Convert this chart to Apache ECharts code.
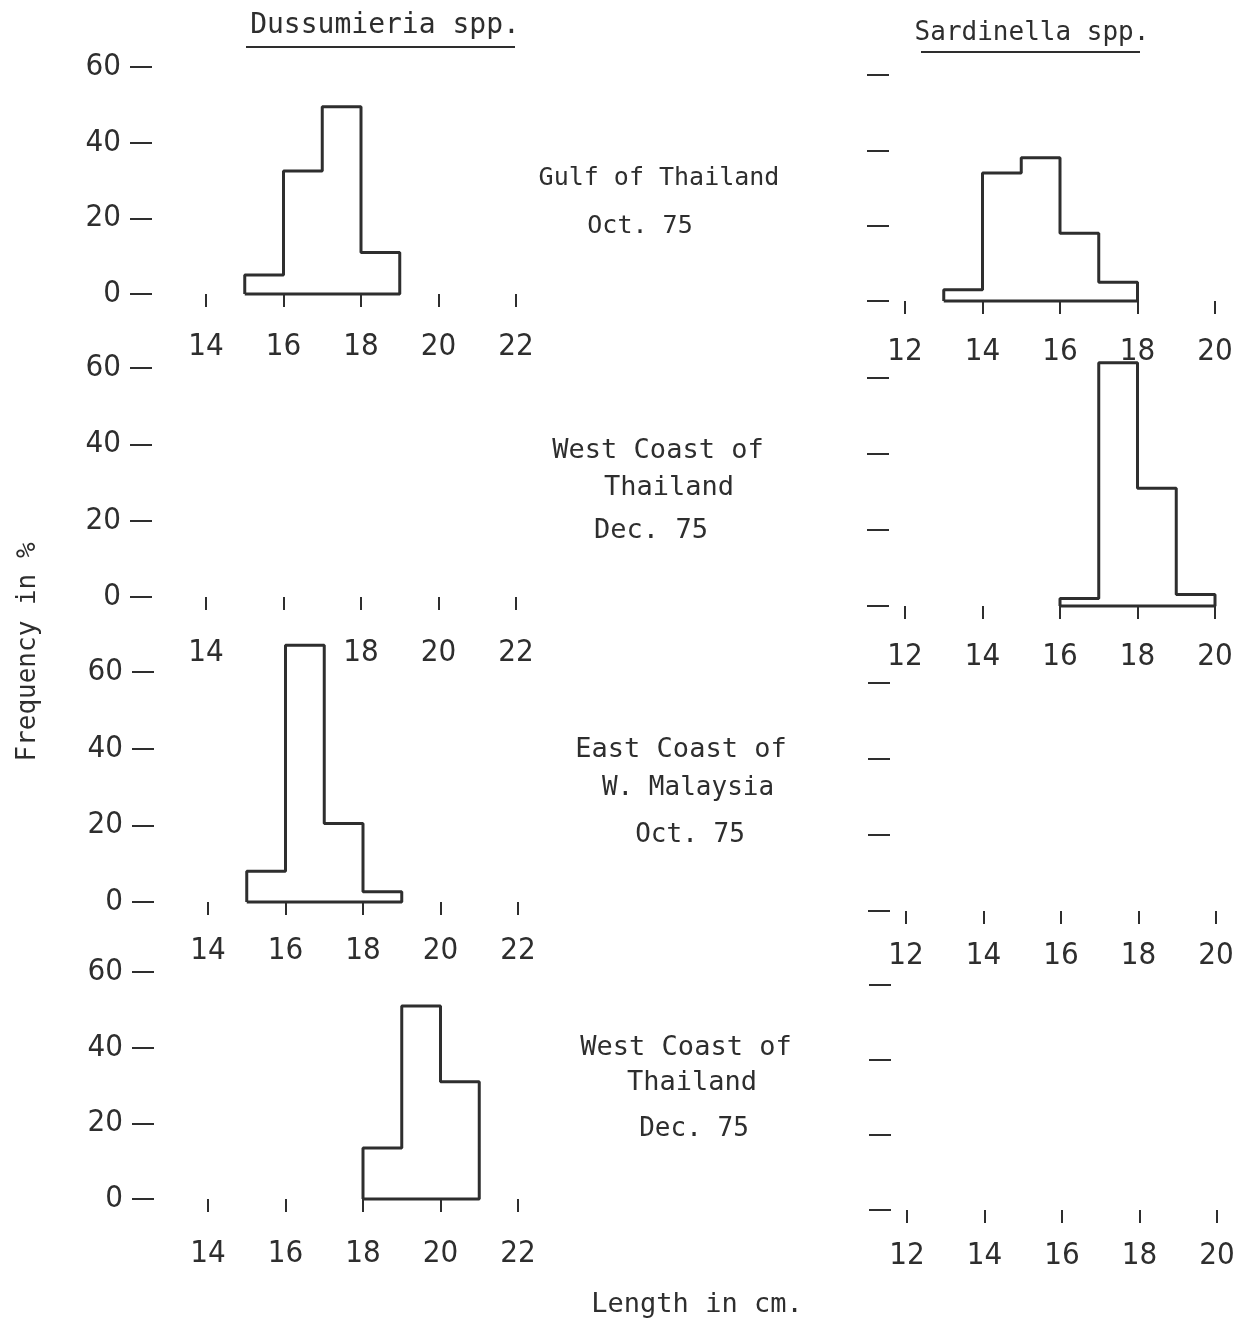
<!DOCTYPE html>
<html>
<head>
<meta charset="utf-8">
<script src="https://cdn.jsdelivr.net/npm/echarts@6/dist/echarts.min.js"></script>
<style>
  body { margin: 0; background: #fff; }
  #myChart { width: 1247px; height: 1325px; }
</style>
</head>
<body>
<div id="myChart"></div>
<script>
// tick labels
var freqTicks = [0, 20, 40, 60];
var dussLengthTicks = [14, 16, 18, 20, 22];
var sardLengthTicks = [12, 14, 16, 18, 20];

// histograms: class start (cm, 1 cm classes) and frequency in %
var dussGulfStart = [15, 16, 17, 18];
var dussGulfFreq = [5, 32.5, 49.5, 11];
var sardGulfStart = [13, 14, 15, 16, 17];
var sardGulfFreq = [3, 34, 38, 18, 5];

var dussWestStart = [];
var dussWestFreq = [];
var sardWestStart = [16, 17, 18, 19];
var sardWestFreq = [2, 64, 31, 3];

var dussEastStart = [15, 16, 17, 18];
var dussEastFreq = [8, 67, 20.5, 2.7];
var sardEastStart = [];
var sardEastFreq = [];

var dussWest2Start = [18, 19, 20];
var dussWest2Freq = [13.5, 51, 31];
var sardWest2Start = [];
var sardWest2Freq = [];

var ink = '#2e2e2e';
var narrow = '"Liberation Sans Narrow", "DejaVu Sans Condensed", sans-serif';
var mono = '"DejaVu Sans Mono", monospace';

// outline of a histogram (outer silhouette + base line)
function outline(start, freq) {
  if (!start.length) return [];
  var pts = [[start[0], 0]];
  for (var i = 0; i < start.length; i++) {
    pts.push([start[i], freq[i]]);
    pts.push([start[i] + 1, freq[i]]);
  }
  pts.push([start[start.length - 1] + 1, 0]);
  pts.push([start[0], 0]);
  return pts;
}

var panels = [
  { left: 206, top: 67, height: 227, ticks: dussLengthTicks, start: dussGulfStart, freq: dussGulfFreq, labelGap: 30, hide: [] },
  { left: 905, top: 75, height: 226, ticks: sardLengthTicks, start: sardGulfStart, freq: sardGulfFreq, labelGap: 28 },
  { left: 206, top: 368, height: 229, ticks: dussLengthTicks, start: dussWestStart, freq: dussWestFreq, labelGap: 33, hide: [16] },
  { left: 905, top: 378, height: 228, ticks: sardLengthTicks, start: sardWestStart, freq: sardWestFreq, labelGap: 28 },
  { left: 208, top: 672, height: 230, ticks: dussLengthTicks, start: dussEastStart, freq: dussEastFreq, labelGap: 26, hide: [] },
  { left: 906, top: 683, height: 228, ticks: sardLengthTicks, start: sardEastStart, freq: sardEastFreq, labelGap: 22 },
  { left: 208, top: 972, height: 227, ticks: dussLengthTicks, start: dussWest2Start, freq: dussWest2Freq, labelGap: 32, hide: [] },
  { left: 907, top: 985, height: 225, ticks: sardLengthTicks, start: sardWest2Start, freq: sardWest2Freq, labelGap: 23 }
];

var grids = [], xAxes = [], yAxes = [], series = [];
panels.forEach(function (p, i) {
  var isLeft = i % 2 === 0;
  var t = p.ticks;
  grids.push({ left: p.left, top: p.top, width: 310, height: p.height, outerBoundsMode: 'none' });
  xAxes.push({
    type: 'value', gridIndex: i,
    min: t[0], max: t[t.length - 1], interval: t[1] - t[0],
    offset: 7,
    axisLine: { show: false },
    splitLine: { show: false },
    axisTick: { length: 13, lineStyle: { color: ink, width: 2 } },
    axisLabel: {
      margin: p.labelGap, color: ink, fontSize: 31, fontFamily: narrow,
      formatter: function (v) { return (p.hide || []).indexOf(v) >= 0 ? '' : String(v); }
    }
  });
  yAxes.push({
    type: 'value', gridIndex: i,
    min: freqTicks[0], max: freqTicks[freqTicks.length - 1], interval: freqTicks[1] - freqTicks[0],
    offset: isLeft ? 54 : 16,
    axisLine: { show: false },
    splitLine: { show: false },
    axisTick: { length: 22, lineStyle: { color: ink, width: 2 } },
    axisLabel: { show: isLeft, margin: 31, color: ink, fontSize: 31, fontFamily: narrow }
  });
  series.push({
    type: 'line', xAxisIndex: i, yAxisIndex: i,
    data: outline(p.start, p.freq),
    symbol: 'none', clip: false, silent: true,
    lineStyle: { color: ink, width: 3 }
  });
});

function txt(x, y, s, size, rot) {
  return {
    type: 'text', x: x, y: y, rotation: rot || 0,
    style: { text: s, fill: ink, font: size + 'px ' + mono, textAlign: 'center', textVerticalAlign: 'middle' }
  };
}

var graphics = [
  txt(385, 26, 'Dussumieria spp.', 28),
  { type: 'line', shape: { x1: 246, y1: 47, x2: 515, y2: 47 }, style: { stroke: ink, lineWidth: 2 } },
  txt(1032, 33, 'Sardinella spp.', 26),
  { type: 'line', shape: { x1: 921, y1: 52, x2: 1140, y2: 52 }, style: { stroke: ink, lineWidth: 2 } },

  txt(659, 178, 'Gulf of Thailand', 25),
  txt(640, 226, 'Oct. 75', 25),

  txt(658, 451, 'West Coast of', 27),
  txt(669, 488, 'Thailand', 27),
  txt(651, 531, 'Dec. 75', 27),

  txt(681, 750, 'East Coast of', 27),
  txt(688, 788, 'W. Malaysia', 26),
  txt(690, 835, 'Oct. 75', 26),

  txt(686, 1048, 'West Coast of', 27),
  txt(692, 1083, 'Thailand', 27),
  txt(694, 1129, 'Dec. 75', 26),

  txt(28, 652, 'Frequency in %', 26, Math.PI / 2),
  txt(697, 1305, 'Length in cm.', 27)
];

var myChart = echarts.init(document.getElementById('myChart'));
myChart.setOption({
  animation: false,
  backgroundColor: '#ffffff',
  grid: grids,
  xAxis: xAxes,
  yAxis: yAxes,
  series: series,
  graphic: graphics
});
</script>
</body>
</html>
